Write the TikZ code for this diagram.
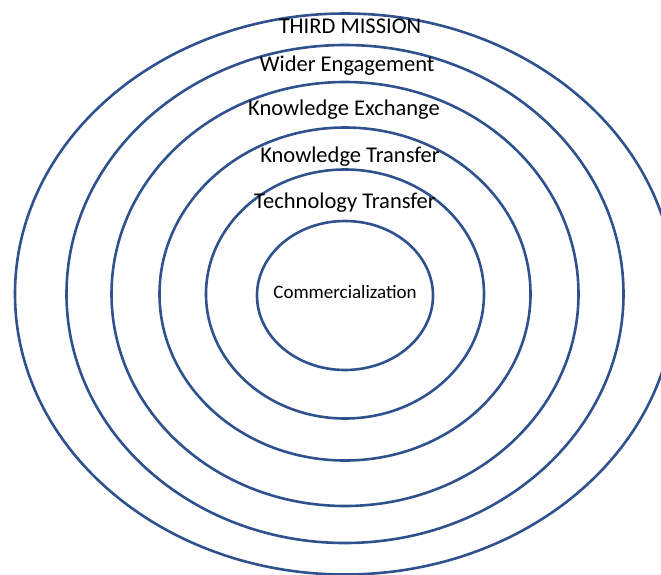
\documentclass[tikz,border=0pt]{standalone}
\usepackage{fontspec}
\setmainfont{Carlito}
\definecolor{ringblue}{HTML}{2F528F}
\begin{document}
\begin{tikzpicture}[x=1pt,y=-1pt,
  ring/.style={draw=ringblue,line width=2.6pt},
  lbl/.style={inner sep=0pt,font=\fontsize{22.5}{22.5}\selectfont},
  small/.style={inner sep=0pt,font=\fontsize{19}{19}\selectfont}]
\useasboundingbox (0,0) rectangle (661,574);
\clip (0,0) rectangle (661,574);
\coordinate (c) at (345,294);
\draw[ring] (c) ellipse [x radius=330, y radius=280.5];
\draw[ring] (c) ellipse [x radius=278.5, y radius=249];
\draw[ring] (c) ellipse [x radius=233.5, y radius=212];
\draw[ring] (c) ellipse [x radius=185.5, y radius=166.5];
\draw[ring] (c) ellipse [x radius=139, y radius=124.5];
\draw[ring] (345,295.5) ellipse [x radius=88, y radius=74.5];
\node[lbl] (m) at (350,26.5) {THIRD MISSION};
\node[lbl] (w) at (347,65.5) {Wider Engagement};
\node[lbl] (ke) at (344,109.5) {Knowledge Exchange};
\node[lbl] (kt) at (350,156.5) {Knowledge Transfer};
\node[lbl] (tt) at (345,202.5) {Technology Transfer};
\node[small] (co) at (345,292) {Commercialization};
\end{tikzpicture}
\end{document}
